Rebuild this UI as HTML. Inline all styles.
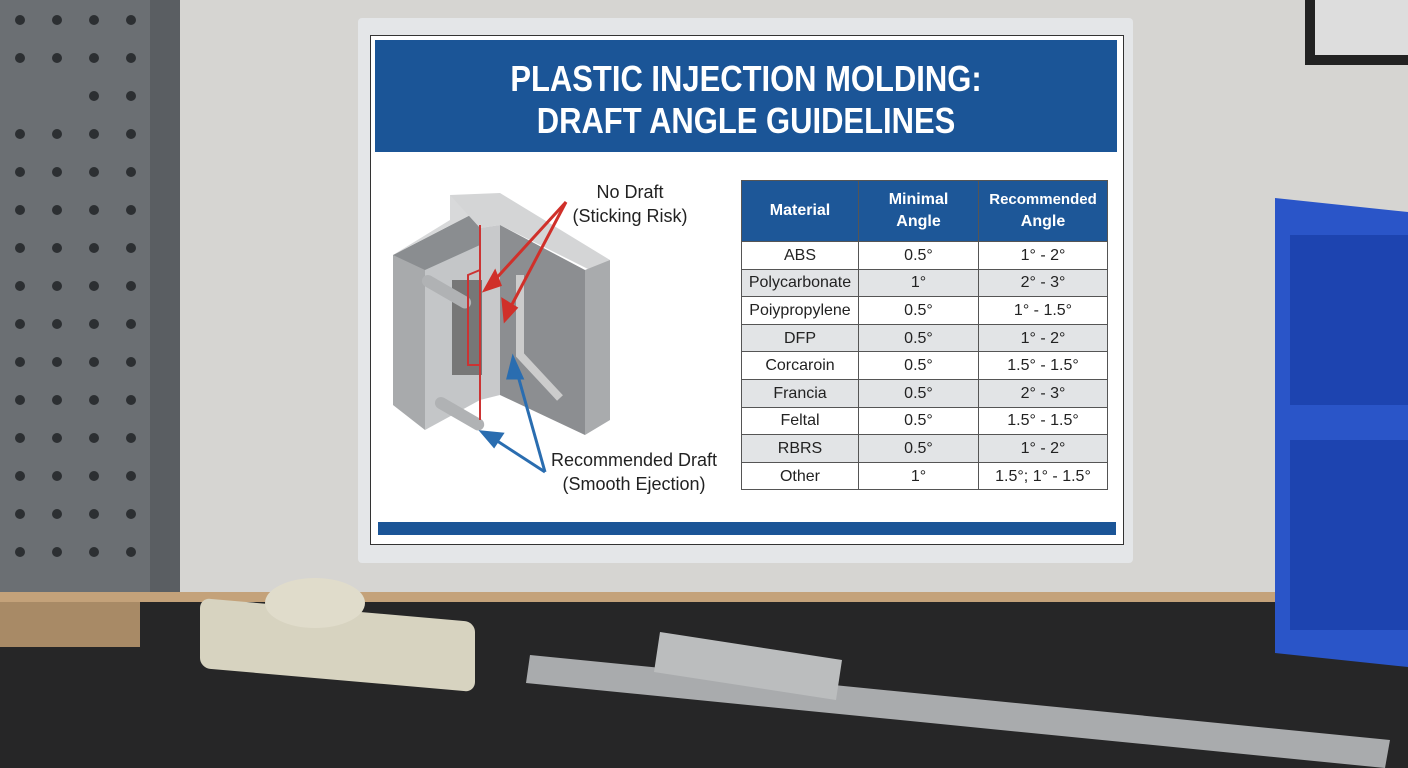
<!DOCTYPE html>
<html style="overflow:hidden;width:1408px;height:768px"><head><style>
body{margin:0;width:1408px;height:768px;overflow:hidden;background:#d6d5d2;font-family:"Liberation Sans",sans-serif;position:relative}
#w{position:absolute;left:0;top:0;width:1408px;height:768px;overflow:hidden}
.a{position:absolute}
table{border-collapse:collapse;font-size:16px;color:#222;table-layout:fixed}
td{border:1px solid #555;text-align:center;height:27.6px;padding:0;line-height:25px;white-space:nowrap;box-sizing:border-box}
tr:nth-child(odd) td{background:#e2e4e6}
tr:nth-child(even) td{background:#fff}
th{background:#1d5798;color:#fff;font-size:16px;font-weight:bold;border:1px solid #555;height:60px;line-height:22px;padding:0;white-space:nowrap}
</style></head><body><div id="w">
<div class="a" style="left:0;top:0;width:180px;height:595px;background:#6b6f73"></div>
<div class="a" style="left:150px;top:0;width:30px;height:595px;background:#5a5e62"></div>
<div class="a" style="left:1305px;top:0;width:103px;height:65px;background:#222"></div>
<div class="a" style="left:1315px;top:0;width:93px;height:55px;background:#ddd"></div>
<div class="a" style="left:0;top:592px;width:1408px;height:20px;background:#c4a27a"></div>
<div class="a" style="left:0;top:602px;width:1408px;height:166px;background:#262627"></div>
<div class="a" style="left:0;top:602px;width:140px;height:45px;background:#a88a66"></div>
<div class="a" style="left:1275px;top:205px;width:133px;height:455px;background:#2a55c8;transform:skewY(6deg)"></div>
<div class="a" style="left:1290px;top:235px;width:118px;height:170px;background:#1d44b0"></div>
<div class="a" style="left:1290px;top:440px;width:118px;height:190px;background:#1d44b0"></div>
<svg class="a" style="left:0;top:0" width="1408" height="768">
<polygon points="530,655 1390,740 1385,768 526,683" fill="#a9abad"/>
<polygon points="660,632 842,660 836,700 654,672" fill="#bbbdbe"/>
</svg>
<div class="a" style="left:200px;top:610px;width:275px;height:70px;background:#d7d3c0;border-radius:10px;transform:skewY(5deg)"></div>
<div class="a" style="left:265px;top:578px;width:100px;height:50px;background:#e0dccb;border-radius:50%"></div>
<div class="a" style="left:358px;top:18px;width:775px;height:545px;background:#e4e6e8;border-radius:4px"></div>
<div class="a" style="left:370px;top:35px;width:752px;height:508px;background:#fff;border:1px solid #333"></div>
<div class="a" style="left:375px;top:40px;width:742px;height:112px;background:#1b5597;color:#fff;font-weight:bold;font-size:36px;text-align:center;line-height:42px;padding-top:18px;box-sizing:border-box"><div style="transform:scaleX(0.86)">PLASTIC INJECTION MOLDING:<br>DRAFT ANGLE GUIDELINES</div></div>
<div class="a" style="left:378px;top:522px;width:738px;height:13px;background:#1b5597"></div>
<svg class="a" style="left:370px;top:150px" width="360" height="380">
<polygon points="23,105 110,60 110,247 23,255" fill="#8a8d90"/>
<polygon points="23,105 55,120 55,280 23,255" fill="#a8aaac"/>
<polygon points="55,120 110,95 110,250 55,280" fill="#c4c6c8"/>
<polygon points="23,105 110,60 80,45 80,70" fill="#d8d9da"/>
<polygon points="80,45 130,43 240,110 220,120 130,75 110,78" fill="#d4d5d6"/>
<polygon points="110,78 130,75 130,245 110,250" fill="#c8c9cb"/>
<polygon points="130,75 215,120 215,285 130,245" fill="#8c8e91"/>
<polygon points="215,120 240,110 240,270 215,285" fill="#a9abad"/>
<rect x="82" y="130" width="30" height="95" fill="#777"/>
<rect x="50" y="132" width="55" height="12" rx="6" fill="#b0b2b4" transform="rotate(30 70 138)"/>
<rect x="62" y="258" width="55" height="12" rx="6" fill="#b0b2b4" transform="rotate(30 90 264)"/>
<polyline points="150,125 150,205 190,248" stroke="#ccc" stroke-width="8" fill="none"/>
<polyline points="110,75 110,270" stroke="#c33" stroke-width="2"/>
<polyline points="110,120 98,125 98,215 110,215" stroke="#c33" stroke-width="2" fill="none"/>
<g stroke="#d0302a" stroke-width="3" fill="#d0302a">
<line x1="196" y1="52" x2="122" y2="133"/><line x1="196" y1="52" x2="138" y2="162"/>
<polygon points="115,140 125,122 130,135"/><polygon points="135,170 133,150 146,158"/></g>
<g stroke="#2a6db0" stroke-width="3" fill="#2a6db0">
<line x1="175" y1="322" x2="145" y2="215"/><line x1="175" y1="322" x2="118" y2="285"/>
<polygon points="143,208 152,228 138,228"/><polygon points="112,282 132,284 124,296"/></g>
<text x="260" y="48" font-size="18" text-anchor="middle" fill="#222">No Draft</text>
<text x="260" y="72" font-size="18" text-anchor="middle" fill="#222">(Sticking Risk)</text>
<text x="264" y="316" font-size="18" text-anchor="middle" fill="#222">Recommended Draft</text>
<text x="264" y="340" font-size="18" text-anchor="middle" fill="#222">(Smooth Ejection)</text>
</svg>
<table class="a" style="left:741px;top:180px;width:366px">
<colgroup><col style="width:117px"><col style="width:120px"><col style="width:129px"></colgroup>
<tr><th>Material</th><th>Minimal<br>Angle</th><th><span style="font-size:15px">Recommended</span><br>Angle</th></tr>
<tr><td>ABS</td><td>0.5°</td><td>1° - 2°</td></tr>
<tr><td>Polycarbonate</td><td>1°</td><td>2° - 3°</td></tr>
<tr><td>Poiypropylene</td><td>0.5°</td><td>1° - 1.5°</td></tr>
<tr><td>DFP</td><td>0.5°</td><td>1° - 2°</td></tr>
<tr><td>Corcaroin</td><td>0.5°</td><td>1.5° - 1.5°</td></tr>
<tr><td>Francia</td><td>0.5°</td><td>2° - 3°</td></tr>
<tr><td>Feltal</td><td>0.5°</td><td>1.5° - 1.5°</td></tr>
<tr><td>RBRS</td><td>0.5°</td><td>1° - 2°</td></tr>
<tr><td>Other</td><td>1°</td><td>1.5°; 1° - 1.5°</td></tr>
</table>
<svg class="a" style="left:0;top:0" width="180" height="595">
<g fill="#2c2f32">
<circle cx="20" cy="20" r="5"/><circle cx="57" cy="20" r="5"/><circle cx="94" cy="20" r="5"/><circle cx="131" cy="20" r="5"/>
<circle cx="20" cy="58" r="5"/><circle cx="57" cy="58" r="5"/><circle cx="94" cy="58" r="5"/><circle cx="131" cy="58" r="5"/>
<circle cx="94" cy="96" r="5"/><circle cx="131" cy="96" r="5"/>
<circle cx="20" cy="134" r="5"/><circle cx="57" cy="134" r="5"/><circle cx="94" cy="134" r="5"/><circle cx="131" cy="134" r="5"/>
<circle cx="20" cy="172" r="5"/><circle cx="57" cy="172" r="5"/><circle cx="94" cy="172" r="5"/><circle cx="131" cy="172" r="5"/>
<circle cx="20" cy="210" r="5"/><circle cx="57" cy="210" r="5"/><circle cx="94" cy="210" r="5"/><circle cx="131" cy="210" r="5"/>
<circle cx="20" cy="248" r="5"/><circle cx="57" cy="248" r="5"/><circle cx="94" cy="248" r="5"/><circle cx="131" cy="248" r="5"/>
<circle cx="20" cy="286" r="5"/><circle cx="57" cy="286" r="5"/><circle cx="94" cy="286" r="5"/><circle cx="131" cy="286" r="5"/>
<circle cx="20" cy="324" r="5"/><circle cx="57" cy="324" r="5"/><circle cx="94" cy="324" r="5"/><circle cx="131" cy="324" r="5"/>
<circle cx="20" cy="362" r="5"/><circle cx="57" cy="362" r="5"/><circle cx="94" cy="362" r="5"/><circle cx="131" cy="362" r="5"/>
<circle cx="20" cy="400" r="5"/><circle cx="57" cy="400" r="5"/><circle cx="94" cy="400" r="5"/><circle cx="131" cy="400" r="5"/>
<circle cx="20" cy="438" r="5"/><circle cx="57" cy="438" r="5"/><circle cx="94" cy="438" r="5"/><circle cx="131" cy="438" r="5"/>
<circle cx="20" cy="476" r="5"/><circle cx="57" cy="476" r="5"/><circle cx="94" cy="476" r="5"/><circle cx="131" cy="476" r="5"/>
<circle cx="20" cy="514" r="5"/><circle cx="57" cy="514" r="5"/><circle cx="94" cy="514" r="5"/><circle cx="131" cy="514" r="5"/>
<circle cx="20" cy="552" r="5"/><circle cx="57" cy="552" r="5"/><circle cx="94" cy="552" r="5"/><circle cx="131" cy="552" r="5"/>
</g></svg>
</div></body></html>
